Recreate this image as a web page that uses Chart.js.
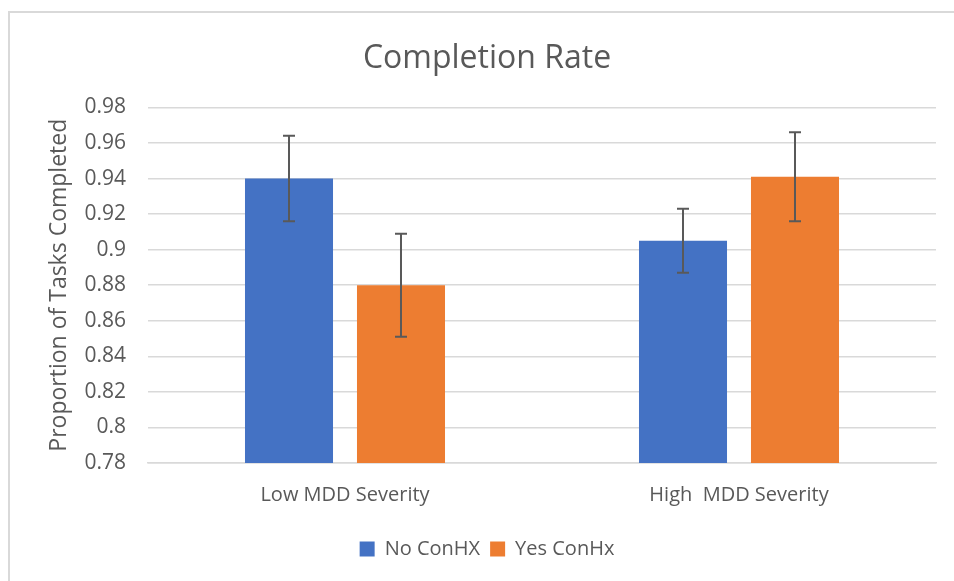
<!DOCTYPE html>
<html>
<head>
<meta charset="utf-8">
<script src="https://cdn.jsdelivr.net/npm/chart.js@4.4.0/dist/chart.umd.min.js"></script>
<style>
  html, body { margin: 0; padding: 0; background: #fff; }
  #wrap { position: relative; width: 954px; height: 581px; }
  #frame { position: absolute; left: 8px; top: 11px; right: 0; bottom: 0;
           border-left: 2px solid #d9d9d9; border-top: 2px solid #d9d9d9; }
  canvas { position: absolute; left: 0; top: 0; }
</style>
</head>
<body>
<div id="wrap">
  <div id="frame"></div>
  <canvas id="completionChart" width="954" height="581"></canvas>
</div>
<script>
// Data
const categories = ['Low MDD Severity', 'High  MDD Severity'];
const noConHx = [0.940, 0.905];
const yesConHx = [0.880, 0.941];
const noConHxErr = [0.024, 0.018];
const yesConHxErr = [0.029, 0.025];
const yTicks = [0.78, 0.8, 0.82, 0.84, 0.86, 0.88, 0.9, 0.92, 0.94, 0.96, 0.98];

const FONT = "'Open Sans', 'Noto Sans', sans-serif";
const GREY = '#595959';

// draws the error bars using the chart's own scales
const errorBarsPlugin = {
    id: 'errorBars',
    afterDatasetsDraw(chart) {
        const ctx = chart.ctx;
        const yScale = chart.scales.y;
        chart.data.datasets.forEach((ds, i) => {
            const meta = chart.getDatasetMeta(i);
            meta.data.forEach((bar, j) => {
                const v = ds.data[j];
                const e = ds.errors[j];
                const top = yScale.getPixelForValue(v + e);
                const bottom = yScale.getPixelForValue(v - e);
                const x = bar.x;
                ctx.save();
                ctx.strokeStyle = GREY;
                ctx.lineWidth = 2;
                ctx.beginPath();
                ctx.moveTo(x, top);
                ctx.lineTo(x, bottom);
                ctx.moveTo(x - 6, top);
                ctx.lineTo(x + 6, top);
                ctx.moveTo(x - 6, bottom);
                ctx.lineTo(x + 6, bottom);
                ctx.stroke();
                ctx.restore();
            });
        });
    }
};

const ctx = document.getElementById('completionChart').getContext('2d');
const chart = new Chart(ctx, {
    type: 'bar',
    data: {
        labels: categories,
        datasets: [{
            label: 'No ConHX',
            data: noConHx,
            errors: noConHxErr,
            backgroundColor: '#4472C4'
        }, {
            label: 'Yes ConHx',
            data: yesConHx,
            errors: yesConHxErr,
            backgroundColor: '#ED7D31'
        }]
    },
    options: {
        responsive: false,
        animation: false,
        devicePixelRatio: 1,
        categoryPercentage: 0.5685,
        barPercentage: 0.786,
        layout: { padding: { top: 30, bottom: 12, left: 38, right: 18 } },
        plugins: {
            title: {
                display: true,
                text: 'Completion Rate',
                color: GREY,
                font: { family: FONT, size: 32, weight: 'normal' },
                padding: { top: 10, bottom: 29 }
            },
            legend: {
                position: 'bottom',
                labels: {
                    color: GREY,
                    font: { family: FONT, size: 20 },
                    boxWidth: 15,
                    boxHeight: 15,
                    padding: 10
                }
            },
            tooltip: { enabled: false }
        },
        scales: {
            x: {
                grid: { display: false, drawTicks: false },
                border: { color: '#d9d9d9', width: 1.5 },
                ticks: { color: GREY, font: { family: FONT, size: 20 }, padding: 20 },
                afterFit(scale) { scale.height = 66; }
            },
            y: {
                min: 0.78,
                max: 0.98,
                afterBuildTicks(scale) {
                    scale.ticks = yTicks.map(v => ({ value: v }));
                },
                grid: { color: '#d9d9d9', lineWidth: 1.5, drawTicks: false },
                border: { display: false },
                ticks: {
                    color: GREY,
                    font: { family: FONT, size: 21 },
                    padding: 22,
                    callback: v => String(+v.toFixed(2))
                },
                title: {
                    display: true,
                    text: 'Proportion of Tasks Completed',
                    color: GREY,
                    font: { family: FONT, size: 23 },
                    padding: { top: 8, bottom: 0 }
                },
                afterFit(scale) { scale.width = 110; }
            }
        }
    },
    plugins: [errorBarsPlugin]
});
</script>
</body>
</html>
